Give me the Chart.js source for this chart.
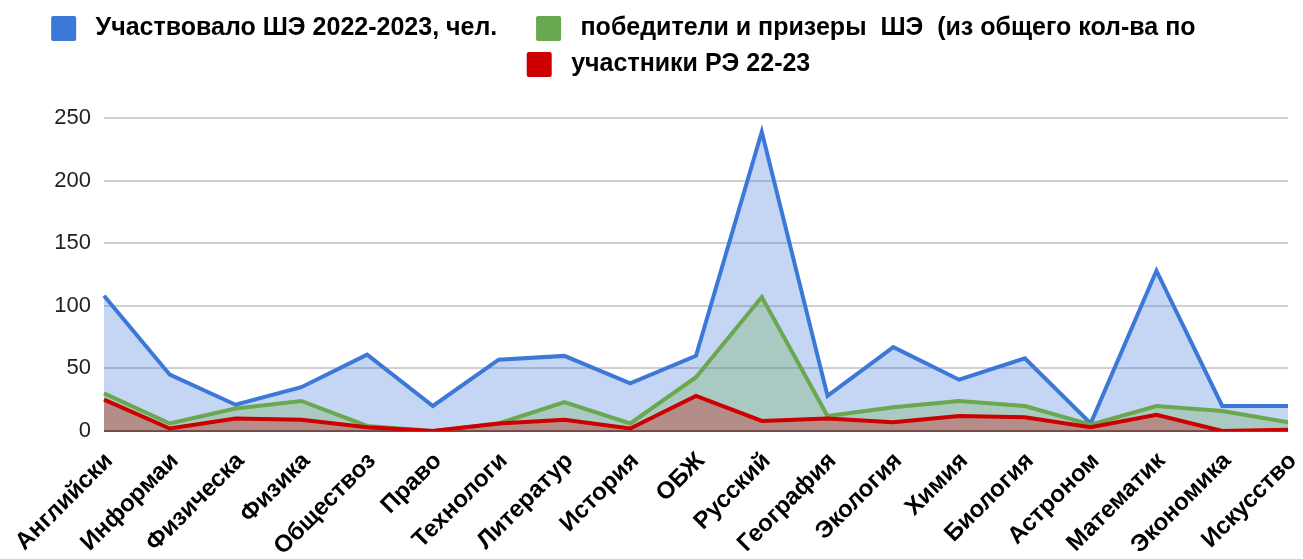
<!DOCTYPE html>
<html>
<head>
<meta charset="utf-8">
<script src="https://cdn.jsdelivr.net/npm/chart.js@4.4.0/dist/chart.umd.min.js"></script>
<style>
  body { margin: 0; background: #fff; }
</style>
</head>
<body>
<canvas id="area_chart" width="1303" height="559"></canvas>
<script>
// subjects (as they are cut in the original table)
var subjects = ["Английски", "Информаи", "Физическа", "Физика", "Обществоз", "Право", "Технологи",
    "Литератур", "История", "ОБЖ", "Русский", "География", "Экология", "Химия", "Биология",
    "Астроном", "Математик", "Экономика", "Искусство"];

// Участвовало ШЭ 2022-2023
var participants = [108, 45, 21, 35, 61, 20, 57, 60, 38, 60, 239, 28, 67, 41, 58, 6, 128, 20, 20];
// победители и призеры ШЭ
var winners = [30, 6, 18, 24, 4, 0, 6, 23, 6, 43, 107, 12, 19, 24, 20, 5, 20, 16, 7];
// участники РЭ 22-23
var regional = [25, 2, 10, 9, 3, 0, 6, 9, 2, 28, 8, 10, 7, 12, 11, 3, 13, 0, 1];

var yTicks = [0, 50, 100, 150, 200, 250];

// extra room under the legend
var legendGap = {
    id: "legendGap",
    beforeInit: function(chart) {
        var fit = chart.legend.fit;
        chart.legend.fit = function() {
            fit.bind(chart.legend)();
            this.height += 31;
        };
    }
};

var ctx = document.getElementById("area_chart").getContext("2d");
var myChart = new Chart(ctx, {
    type: "line",
    data: {
        labels: subjects,
        datasets: [{
            label: " Участвовало ШЭ 2022-2023, чел.    ",
            data: participants,
            borderColor: "#3c78d8",
            backgroundColor: "rgba(60, 120, 216, .3)",
            fill: "origin",
            order: 3
        }, {
            label: " победители и призеры  ШЭ  (из общего кол-ва по             ",
            data: winners,
            borderColor: "#6aa84f",
            backgroundColor: "rgba(106, 168, 79, .3)",
            fill: "origin",
            order: 2
        }, {
            label: " участники РЭ 22-23",
            data: regional,
            borderColor: "#cc0000",
            backgroundColor: "rgba(204, 0, 0, .3)",
            fill: "origin",
            order: 1
        }]
    },
    options: {
        responsive: false,
        animation: false,
        layout: {
            padding: { top: 5, right: 0, bottom: 0, left: 34 }
        },
        elements: {
            line: { borderWidth: 4, tension: 0 },
            point: { radius: 0 }
        },
        plugins: {
            tooltip: { enabled: false },
            legend: {
                position: "top",
                reverse: true,
                labels: {
                    boxWidth: 25,
                    boxHeight: 25,
                    padding: 11,
                    useBorderRadius: true,
                    borderRadius: 2,
                    color: "#000",
                    font: { family: "'Liberation Sans', Arial, sans-serif", size: 25, weight: "bold" },
                    generateLabels: function(chart) {
                        var items = Chart.defaults.plugins.legend.labels.generateLabels(chart);
                        items.forEach(function(item) {
                            item.fillStyle = item.strokeStyle;
                            item.lineWidth = 0;
                        });
                        return items;
                    }
                }
            }
        },
        scales: {
            x: {
                offset: false,
                grid: { display: false },
                border: { display: false },
                afterFit: function(axis) {
                    axis.height = 128;
                    axis.paddingLeft = 0;
                    axis.paddingRight = 15;
                },
                ticks: {
                    autoSkip: false,
                    maxRotation: 45,
                    minRotation: 45,
                    padding: 8,
                    labelOffset: 5,
                    color: "#000",
                    font: { family: "'Liberation Sans', Arial, sans-serif", size: 24, weight: "bold" }
                }
            },
            y: {
                min: 0,
                max: 250,
                afterBuildTicks: function(axis) {
                    axis.ticks = yTicks.map(function(v) { return { value: v }; });
                },
                afterFit: function(axis) {
                    axis.width = 70;
                },
                border: { display: false },
                grid: {
                    drawTicks: false,
                    lineWidth: 2,
                    color: function(c) {
                        return c.tick && c.tick.value === 0 ? "#555" : "#d0d0d0";
                    }
                },
                ticks: {
                    padding: 13,
                    color: "#222",
                    font: { family: "'Liberation Sans', Arial, sans-serif", size: 22 }
                }
            }
        }
    },
    plugins: [legendGap]
});
</script>
</body>
</html>
